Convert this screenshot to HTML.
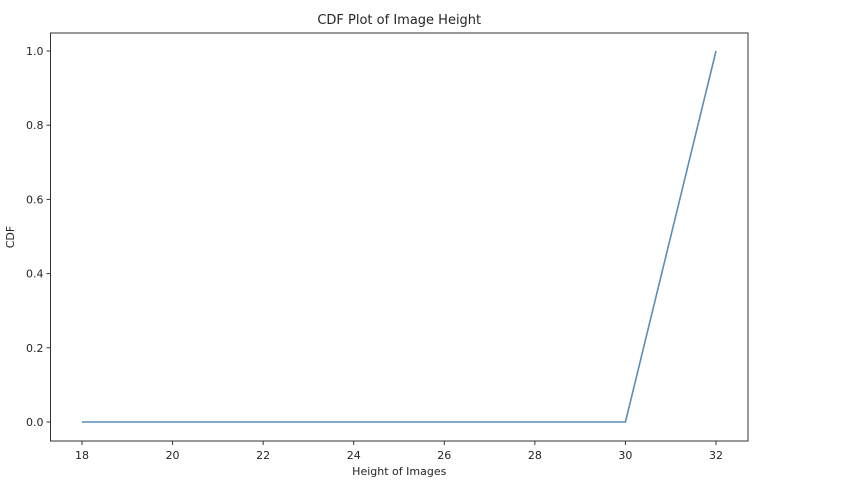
<!DOCTYPE html>
<html><head><meta charset="utf-8"><style>
body{margin:0;background:#fff;width:859px;height:495px;overflow:hidden;font-family:"DejaVu Sans","Liberation Sans",sans-serif;}
svg text{fill:#262626;}
</style></head><body>
<svg id="chart" width="859" height="495" xmlns="http://www.w3.org/2000/svg"></svg>
<script>
const heights=[18,30,32];
const cdfValues=[0,0,1];
const xTicks=[18,20,22,24,26,28,30,32];
const yTicks=[0,0.2,0.4,0.6,0.8,1.0];
const NS="http://www.w3.org/2000/svg";
const svg=document.getElementById('chart');
const L=50.5,R=748,T=33,B=441;
function xs(v){return 82+(v-18)*(716-82)/14;}
function ys(v){return 422-v*(422-51);}
function mk(tag,attrs,parent){const e=document.createElementNS(NS,tag);for(const k in attrs)e.setAttribute(k,attrs[k]);(parent||svg).appendChild(e);return e;}
const title=mk('text',{x:(L+R)/2,y:24,'text-anchor':'middle','font-size':'13'});
title.textContent='CDF Plot of Image Height';


const xg=mk('g',{});


xTicks.forEach(t=>{
  mk('line',{x1:xs(t),x2:xs(t),y1:B,y2:B+4,stroke:'#333','stroke-width':1},xg);
  const tx=mk('text',{x:xs(t),y:B+18,'text-anchor':'middle','font-size':'11'},xg);
  tx.textContent=t;
  
  
});
const yg=mk('g',{});


yTicks.forEach(t=>{
  mk('line',{x1:L-4,x2:L,y1:ys(t),y2:ys(t),stroke:'#333','stroke-width':1},yg);
  const tx=mk('text',{x:L-7,y:ys(t)+4,'text-anchor':'end','font-size':'11'},yg);
  tx.textContent=t.toFixed(1);
  
  
});
const xl=mk('text',{x:(L+R)/2,y:475,'text-anchor':'middle','font-size':'11'});
xl.textContent='Height of Images';


const yl=mk('text',{x:14,y:(T+B)/2,'text-anchor':'middle','font-size':'11',transform:`rotate(-90 14 ${(T+B)/2})`});
yl.textContent='CDF';


const line=mk('polyline',{points:heights.map((h,i)=>xs(h)+','+ys(cdfValues[i])).join(' '),fill:'none',stroke:'#5b8db8','stroke-width':1.6});


const frame=mk('rect',{x:L,y:T,width:R-L,height:B-T,fill:'none',stroke:'#333','stroke-width':1});


</script>
</body></html>
